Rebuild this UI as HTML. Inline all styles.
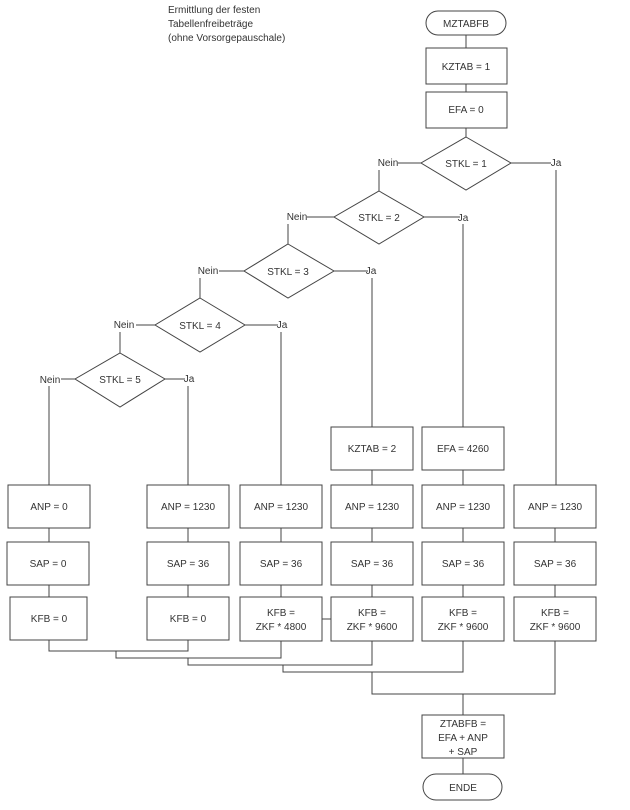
<!DOCTYPE html>
<html><head><meta charset="utf-8"><style>
html,body{margin:0;padding:0;background:#fff;}
svg{display:block;}
text{font-family:"Liberation Sans",sans-serif;font-size:10px;fill:#333;}
</style></head><body>
<svg width="630" height="810" viewBox="0 0 630 810" xmlns="http://www.w3.org/2000/svg">
<g fill="none" stroke="#444" stroke-width="1">
<!-- top chain -->
<rect x="426" y="11" width="80" height="24" rx="12"/>
<line x1="466" y1="35" x2="466" y2="48"/>
<rect x="426" y="48" width="81" height="36"/>
<line x1="466" y1="84" x2="466" y2="92"/>
<rect x="426" y="92" width="81" height="36"/>
<line x1="466" y1="128" x2="466" y2="137"/>
<!-- diamonds -->
<polygon points="466,137 511,163 466,190 421,163"/>
<polygon points="379,191 424,217 379,244 334,217"/>
<polygon points="288,244 334,271 288,298 244,271"/>
<polygon points="200,298 245,325 200,352 155,325"/>
<polygon points="120,353 165,379 120,407 75,379"/>
<!-- nein lines -->
<line x1="398" y1="163" x2="421" y2="163"/><line x1="379" y1="170" x2="379" y2="191"/>
<line x1="307" y1="217" x2="334" y2="217"/><line x1="288" y1="224" x2="288" y2="244"/>
<line x1="219" y1="271" x2="244" y2="271"/><line x1="200" y1="278" x2="200" y2="298"/>
<line x1="136" y1="325" x2="155" y2="325"/><line x1="120" y1="332" x2="120" y2="353"/>
<line x1="61" y1="379" x2="75" y2="379"/><line x1="49" y1="386" x2="49" y2="485"/>
<!-- ja lines -->
<line x1="511" y1="163" x2="551" y2="163"/><line x1="556" y1="170" x2="556" y2="485"/>
<line x1="424" y1="217" x2="460" y2="217"/><line x1="463" y1="224" x2="463" y2="427"/>
<line x1="334" y1="271" x2="368" y2="271"/><line x1="372" y1="278" x2="372" y2="427"/>
<line x1="245" y1="325" x2="278" y2="325"/><line x1="281" y1="332" x2="281" y2="485"/>
<line x1="165" y1="379" x2="185" y2="379"/><line x1="188" y1="386" x2="188" y2="485"/>
<!-- extra boxes -->
<rect x="331" y="427" width="82" height="43"/>
<rect x="422" y="427" width="82" height="43"/>
<line x1="372" y1="470" x2="372" y2="485"/>
<line x1="463" y1="470" x2="463" y2="485"/>
<!-- columns -->
<rect x="8" y="485" width="82" height="43"/>
<rect x="147" y="485" width="82" height="43"/>
<rect x="240" y="485" width="82" height="43"/>
<rect x="331" y="485" width="82" height="43"/>
<rect x="422" y="485" width="82" height="43"/>
<rect x="514" y="485" width="82" height="43"/>
<rect x="7" y="542" width="82" height="43"/>
<rect x="147" y="542" width="82" height="43"/>
<rect x="240" y="542" width="82" height="43"/>
<rect x="331" y="542" width="82" height="43"/>
<rect x="422" y="542" width="82" height="43"/>
<rect x="514" y="542" width="82" height="43"/>
<rect x="10" y="597" width="77" height="43"/>
<rect x="147" y="597" width="82" height="43"/>
<rect x="240" y="597" width="82" height="44"/>
<rect x="331" y="597" width="82" height="44"/>
<rect x="422" y="597" width="82" height="44"/>
<rect x="514" y="597" width="82" height="44"/>
<g>
<line x1="49" y1="528" x2="49" y2="542"/><line x1="49" y1="585" x2="49" y2="597"/>
<line x1="188" y1="528" x2="188" y2="542"/><line x1="188" y1="585" x2="188" y2="597"/>
<line x1="281" y1="528" x2="281" y2="542"/><line x1="281" y1="585" x2="281" y2="597"/>
<line x1="372" y1="528" x2="372" y2="542"/><line x1="372" y1="585" x2="372" y2="597"/>
<line x1="463" y1="528" x2="463" y2="542"/><line x1="463" y1="585" x2="463" y2="597"/>
<line x1="555" y1="528" x2="555" y2="542"/><line x1="555" y1="585" x2="555" y2="597"/>
</g>
<line x1="322" y1="619" x2="331" y2="619"/>
<!-- merge -->
<polyline points="49,640 49,651 188,651 188,640"/>
<polyline points="116,651 116,658 281,658 281,641"/>
<polyline points="188,658 188,665 372,665 372,641"/>
<polyline points="283,665 283,672 463,672 463,641"/>
<polyline points="372,672 372,694 555,694 555,641"/>
<line x1="463" y1="694" x2="463" y2="715"/>
<rect x="422" y="715" width="82" height="43"/>
<line x1="463" y1="758" x2="463" y2="774"/>
<rect x="423" y="774" width="79" height="26" rx="13"/>
</g>
<g text-anchor="middle">
<text x="466" y="27">MZTABFB</text>
<text x="466" y="70">KZTAB = 1</text>
<text x="466" y="113">EFA = 0</text>
<text x="466" y="167">STKL = 1</text>
<text x="379" y="221">STKL = 2</text>
<text x="288" y="275">STKL = 3</text>
<text x="200" y="329">STKL = 4</text>
<text x="120" y="383">STKL = 5</text>
<text x="372" y="452">KZTAB = 2</text>
<text x="463" y="452">EFA = 4260</text>
<text x="49" y="510">ANP = 0</text>
<text x="188" y="510">ANP = 1230</text>
<text x="281" y="510">ANP = 1230</text>
<text x="372" y="510">ANP = 1230</text>
<text x="463" y="510">ANP = 1230</text>
<text x="555" y="510">ANP = 1230</text>
<text x="48" y="567">SAP = 0</text>
<text x="188" y="567">SAP = 36</text>
<text x="281" y="567">SAP = 36</text>
<text x="372" y="567">SAP = 36</text>
<text x="463" y="567">SAP = 36</text>
<text x="555" y="567">SAP = 36</text>
<text x="49" y="622">KFB = 0</text>
<text x="188" y="622">KFB = 0</text>
<text x="281" y="616">KFB =</text><text x="281" y="630">ZKF * 4800</text>
<text x="372" y="616">KFB =</text><text x="372" y="630">ZKF * 9600</text>
<text x="463" y="616">KFB =</text><text x="463" y="630">ZKF * 9600</text>
<text x="555" y="616">KFB =</text><text x="555" y="630">ZKF * 9600</text>
<text x="463" y="727">ZTABFB =</text>
<text x="463" y="741">EFA + ANP</text>
<text x="463" y="755">+ SAP</text>
<text x="463" y="791">ENDE</text>
<text x="388" y="166">Nein</text>
<text x="297" y="220">Nein</text>
<text x="208" y="274">Nein</text>
<text x="124" y="328">Nein</text>
<text x="50" y="383">Nein</text>
<text x="556" y="166">Ja</text>
<text x="463" y="221">Ja</text>
<text x="371" y="274">Ja</text>
<text x="282" y="328">Ja</text>
<text x="189" y="382">Ja</text>
</g>
<text x="168" y="13">Ermittlung der festen</text>
<text x="168" y="27">Tabellenfreibeträge</text>
<text x="168" y="41">(ohne Vorsorgepauschale)</text>
</svg>
</body></html>
